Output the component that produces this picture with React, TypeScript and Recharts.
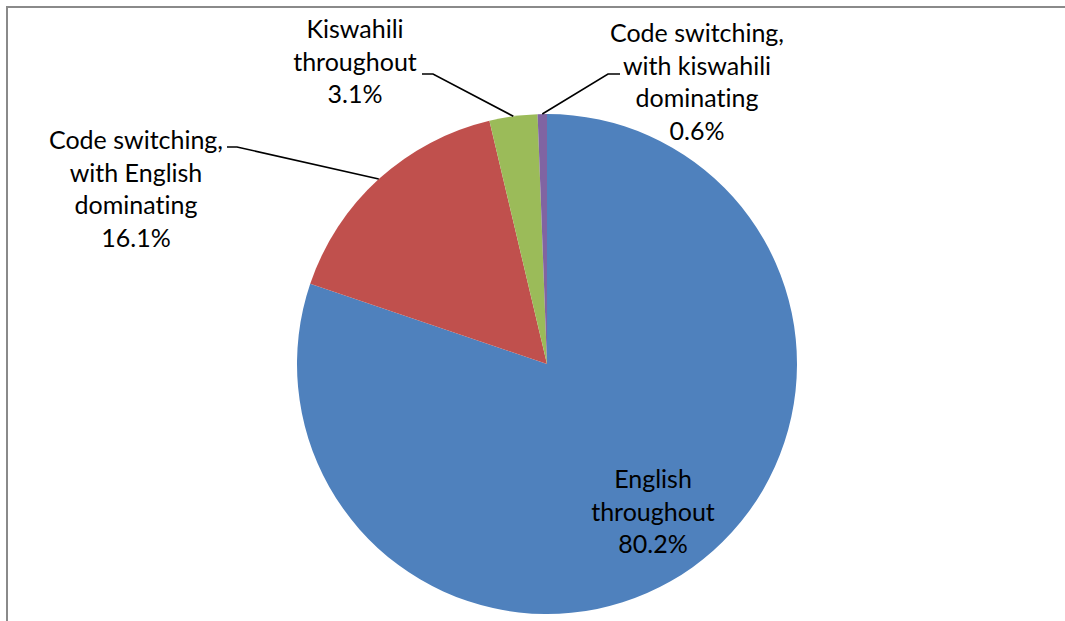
import React from 'react';
import { PieChart, Pie, Cell } from 'recharts';

// Data
const categories: string[][] = [
  ['English', 'throughout'],
  ['Code switching,', 'with English', 'dominating'],
  ['Kiswahili', 'throughout'],
  ['Code switching,', 'with kiswahili', 'dominating'],
];
const shares: number[] = [80.2, 16.1, 3.1, 0.6];
const colors: string[] = ['#4F81BD', '#C0504D', '#9BBB59', '#8064A2'];

// Label layout (chart coordinates): text anchor point, and leader line start/elbow
const labelLayout = [
  { tx: 653, ty: 488, leader: null as null | { sx: number; sy: number; ex: number; ey: number } },
  { tx: 136, ty: 149, leader: { sx: 227, sy: 147, ex: 237, ey: 147 } },
  { tx: 355, ty: 38, leader: { sx: 422, sy: 74, ex: 433, ey: 74 } },
  { tx: 697, ty: 42, leader: { sx: 620, sy: 74, ex: 608, ey: 74 } },
];

const data = categories.map((lines, i) => ({
  name: lines.join(' '),
  lines,
  value: shares[i],
}));

const RAD = Math.PI / 180;
const FONT = 'Lato, "Open Sans", sans-serif';
const LINE_H = 32.5;
const W = 1065;
const H = 621;

const renderLabel = (props: any) => {
  const { cx, cy, midAngle, outerRadius, index } = props;
  const layout = labelLayout[index];
  const d = data[index];
  const lines = [...d.lines, `${d.value.toFixed(1)}%`];
  let leader = null;
  if (layout.leader) {
    const px = cx + outerRadius * Math.cos(-midAngle * RAD);
    const py = cy + outerRadius * Math.sin(-midAngle * RAD);
    const { sx, sy, ex, ey } = layout.leader;
    leader = (
      <polyline
        points={`${sx},${sy} ${ex},${ey} ${px},${py}`}
        fill="none"
        stroke="#000"
        strokeWidth={1.6}
      />
    );
  }
  return (
    <g key={`lbl-${index}`}>
      {leader}
      <text
        x={layout.tx}
        y={layout.ty}
        textAnchor="middle"
        fill="#000"
        fontFamily={FONT}
        fontSize={25}
        style={{ fontVariantLigatures: 'none', fontFeatureSettings: '"liga" 0' }}
      >
        {lines.map((ln, j) => (
          <tspan key={j} x={layout.tx} y={layout.ty + j * LINE_H}>
            {ln}
          </tspan>
        ))}
      </text>
    </g>
  );
};

export default function App() {
  return (
    <div style={{ position: 'fixed', left: 0, top: 0, width: W, height: H, background: '#fff' }}>
      <div
        style={{
          position: 'absolute',
          left: 6,
          top: 6,
          width: 2,
          height: H,
          background: '#8a8a8a',
        }}
      />
      <div
        style={{
          position: 'absolute',
          left: 6,
          top: 6,
          width: W,
          height: 2,
          background: '#8a8a8a',
        }}
      />
      <div style={{ position: 'absolute', left: 0, top: 0 }}>
        <PieChart width={W} height={H} margin={{ top: 0, right: 0, bottom: 0, left: 0 }}>
          <Pie
            data={data}
            dataKey="value"
            nameKey="name"
            cx={547}
            cy={364}
            outerRadius={250}
            startAngle={90}
            endAngle={-270}
            stroke="none"
            label={renderLabel}
            labelLine={false}
            isAnimationActive={false}
          >
            {data.map((_, i) => (
              <Cell key={i} fill={colors[i]} />
            ))}
          </Pie>
        </PieChart>
      </div>
    </div>
  );
}
